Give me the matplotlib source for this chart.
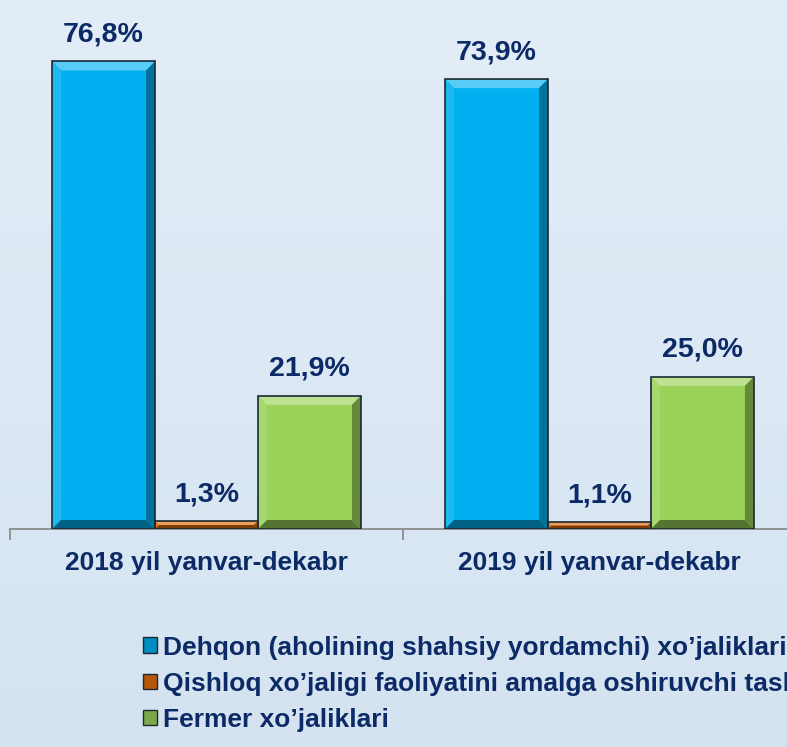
import numpy as np
import matplotlib
matplotlib.use('Agg')
import matplotlib.pyplot as plt
from matplotlib.patches import Polygon, Rectangle
from matplotlib.colors import to_rgb, LinearSegmentedColormap

categories = ['2018 yil yanvar-dekabr', '2019 yil yanvar-dekabr']
series_names = ["Dehqon (aholining shahsiy yordamchi) xo\u2019jaliklari",
                "Qishloq xo\u2019jaligi faoliyatini amalga oshiruvchi tashkilotlar",
                "Fermer xo\u2019jaliklari"]
dehqon = [76.8, 73.9]
qishloq = [1.3, 1.1]
fermer = [21.9, 25.0]
value_labels = [['76,8%', '73,9%'], ['1,3%', '1,1%'], ['21,9%', '25,0%']]

colors = ['#00b0f0', '#e46c0a', '#9bd35a']
text_color = '#0b2a66'
bg_color = '#dae7f3'


def shade(c, f):
    r = np.array(to_rgb(c))
    if f > 0:
        return tuple(r + (1 - r) * f)
    return tuple(r * (1 + f))


def bevel_bar(ax, rect, color, bev_px=9):
    # bevelled look on top of a bar patch, drawn in pixel units
    x0, y0 = rect.get_x(), rect.get_y()
    w, h = rect.get_width(), rect.get_height()
    (px0, py0) = ax.transData.transform((x0, y0))
    (px1, py1) = ax.transData.transform((x0 + w, y0 + h))
    b = min(bev_px, (px1 - px0) / 2, (py1 - py0) / 2)
    outer = [(px0, py0), (px1, py0), (px1, py1), (px0, py1)]
    inner = [(px0 + b, py0 + b), (px1 - b, py0 + b), (px1 - b, py1 - b), (px0 + b, py1 - b)]
    faces = [
        ([outer[3], outer[2], inner[2], inner[3]], shade(color, 0.35)),   # top
        ([outer[0], outer[3], inner[3], inner[0]], shade(color, 0.12)),   # left
        ([outer[1], outer[2], inner[2], inner[1]], shade(color, -0.35)),  # right
        ([outer[0], outer[1], inner[1], inner[0]], shade(color, -0.45)),  # bottom
    ]
    for pts, c in faces:
        ax.add_patch(Polygon(pts, closed=True, facecolor=c, edgecolor='none',
                             transform=None, zorder=3))
    ax.add_patch(Rectangle((px0, py0), px1 - px0, py1 - py0, facecolor='none',
                           edgecolor='#1a2a33', linewidth=1.2, transform=None, zorder=4))


fig = plt.figure(figsize=(7.87, 7.47), dpi=100)
fig.patch.set_facecolor(bg_color)

# soft background gradient
bg_ax = fig.add_axes([0, 0, 1, 1], zorder=-10)
bg_cmap = LinearSegmentedColormap.from_list('bg', ['#d5e3f1', '#e3edf7'])
bg_ax.imshow(np.linspace(0, 1, 256).reshape(-1, 1), cmap=bg_cmap, aspect='auto',
             origin='lower', extent=[0, 1, 0, 1])
bg_ax.axis('off')

ax = fig.add_axes([10 / 787, 218 / 747, 786 / 787, 487 / 747])
ax.patch.set_alpha(0)

x = np.arange(len(categories))
bw = 0.262
all_series = [dehqon, qishloq, fermer]
bar_groups = []
for i, vals in enumerate(all_series):
    bars = ax.bar(x + (i - 1) * bw, vals, bw, color=colors[i], label=series_names[i],
                  edgecolor='none', zorder=2)
    bar_groups.append(bars)

ax.set_xlim(-0.5, 1.5)
ax.set_ylim(0, 80)
for s in ['top', 'right', 'left']:
    ax.spines[s].set_visible(False)
ax.spines['bottom'].set_color('#8c8c8c')
ax.spines['bottom'].set_linewidth(1.3)
ax.set_yticks([])
ax.set_xticks([-0.5, 0.5, 1.5])
ax.set_xticklabels([])
ax.tick_params(axis='x', which='major', direction='out', length=8, width=1.3, color='#8c8c8c')
ax.set_xticks(x, minor=True)
ax.set_xticklabels(categories, minor=True)
ax.tick_params(axis='x', which='minor', length=0, pad=16, labelsize=19, labelcolor=text_color)
for t in ax.get_xticklabels(minor=True):
    t.set_fontweight('bold')
    t.set_fontfamily('Liberation Sans')

fig.canvas.draw()
for i, bars in enumerate(bar_groups):
    for j, rect in enumerate(bars):
        bevel_bar(ax, rect, colors[i])
        ax.annotate(value_labels[i][j], (rect.get_x() + rect.get_width() / 2, rect.get_height()),
                    xytext=(0, 10), textcoords='offset points', ha='center', va='bottom',
                    fontsize=20.5, fontweight='bold', color=text_color,
                    family='Liberation Sans', annotation_clip=False)

leg = fig.legend(loc='upper left', bbox_to_anchor=(132 / 787, 1 - 625 / 747),
                 frameon=False, handlelength=0.53, handleheight=0.53, handletextpad=0.23,
                 labelspacing=0.46, borderaxespad=0,
                 prop={'family': 'Liberation Sans', 'weight': 'bold', 'size': 19})
for txt in leg.get_texts():
    txt.set_color(text_color)
for h, c in zip(leg.legend_handles, colors):
    h.set_facecolor(shade(c, -0.2))
    h.set_edgecolor('#1a2a33')
    h.set_linewidth(1.0)

fig.savefig('out.png', dpi=100)
